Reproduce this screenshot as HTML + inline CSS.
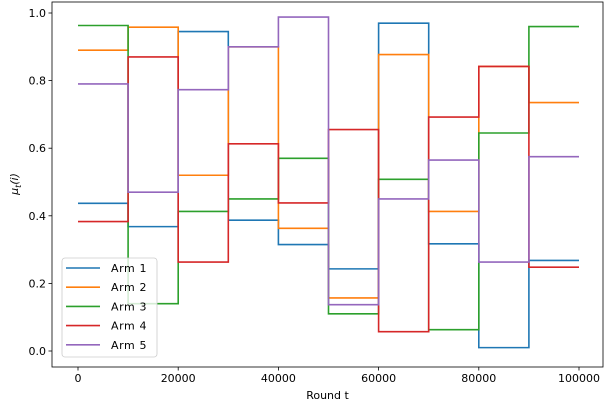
<!DOCTYPE html>
<html><head><meta charset="utf-8"><style>
body{margin:0;background:#fff}
svg text{font-family:"DejaVu Sans","Liberation Sans",sans-serif;font-size:11px;fill:#000}
</style></head><body>
<svg id="chart" width="606" height="402" viewBox="0 0 606 402" xmlns="http://www.w3.org/2000/svg">
<g id="plot"></g>
</svg>
<script>
const armNames = ["Arm 1","Arm 2","Arm 3","Arm 4","Arm 5"];
const segmentStarts = [0,10000,20000,30000,40000,50000,60000,70000,80000,90000];
const arm1 = [0.437,0.368,0.945,0.387,0.315,0.243,0.970,0.317,0.010,0.268];
const arm2 = [0.890,0.958,0.520,0.900,0.363,0.157,0.877,0.413,0.842,0.735];
const arm3 = [0.963,0.140,0.413,0.450,0.570,0.110,0.508,0.063,0.645,0.960];
const arm4 = [0.383,0.870,0.263,0.613,0.438,0.655,0.057,0.692,0.842,0.248];
const arm5 = [0.790,0.470,0.773,0.900,0.988,0.137,0.450,0.565,0.263,0.575];
const xTicks = [0,20000,40000,60000,80000,100000];
const yTicks = [0.0,0.2,0.4,0.6,0.8,1.0];
const yTickLabels = ["0.0","0.2","0.4","0.6","0.8","1.0"];
const roundEnd = 100000;

const colors = ["#1f77b4","#ff7f0e","#2ca02c","#d62728","#9467bd"];
const series = [arm1,arm2,arm3,arm4,arm5];
const L=52,R=603,T=2,B=367;
const xS = v => 78 + v*(501/100000);
const yS = v => 351 - v*(338/1.0);
const NS="http://www.w3.org/2000/svg";
const g=document.getElementById('plot');
function mk(tag,attrs){const e=document.createElementNS(NS,tag);for(const k in attrs)e.setAttribute(k,attrs[k]);g.appendChild(e);return e;}

series.forEach((vals,i)=>{
  let d="";
  vals.forEach((v,j)=>{
    const x0=xS(segmentStarts[j]), x1=xS(j+1<segmentStarts.length?segmentStarts[j+1]:roundEnd);
    d += (j===0?"M":"L")+x0+","+yS(v)+" L"+x1+","+yS(v)+" ";
  });
  const p=mk('path',{d:d,fill:"none",stroke:colors[i],"stroke-width":1.6});
  
  
});

const box=mk('rect',{x:L,y:T,width:R-L,height:B-T,fill:"none",stroke:"#000","stroke-width":0.8});



xTicks.forEach(t=>{
  const x=xS(t);
  const tk=mk('line',{x1:x,x2:x,y1:B,y2:B+3.5,stroke:"#000","stroke-width":0.8});
  
  
  const tx=mk('text',{x:x,y:B+15,"text-anchor":"middle"});
  tx.textContent=t;
  
  
});
yTicks.forEach((t,i)=>{
  const y=yS(t);
  const tk=mk('line',{x1:L-3.5,x2:L,y1:y,y2:y,stroke:"#000","stroke-width":0.8});
  
  
  const tx=mk('text',{x:L-6,y:y+4,"text-anchor":"end"});
  tx.textContent=yTickLabels[i];
  
  
});
const xl=mk('text',{x:(L+R)/2,y:399,"text-anchor":"middle"});
xl.textContent="Round t";


const yl=mk('text',{x:0,y:0,"text-anchor":"middle",transform:"translate(18,184) rotate(-90)","font-style":"italic","font-family":"Liberation Serif, serif"});
yl.innerHTML='μ<tspan font-size="8" dy="3">t</tspan><tspan dy="-3">(i)</tspan>';



const lg=mk('rect',{x:62,y:258,width:95,height:99,rx:3,fill:"#fff","fill-opacity":0.8,stroke:"#ccc","stroke-width":0.8});


armNames.forEach((n,i)=>{
  const y=268+i*19.2;
  const ln=mk('line',{x1:66,x2:100,y1:y,y2:y,stroke:colors[i],"stroke-width":1.6});
  
  
  const tx=mk('text',{x:111,y:y+4,"letter-spacing":"0.6"});
  tx.textContent=n;
  
  
});
</script>
</body></html>
